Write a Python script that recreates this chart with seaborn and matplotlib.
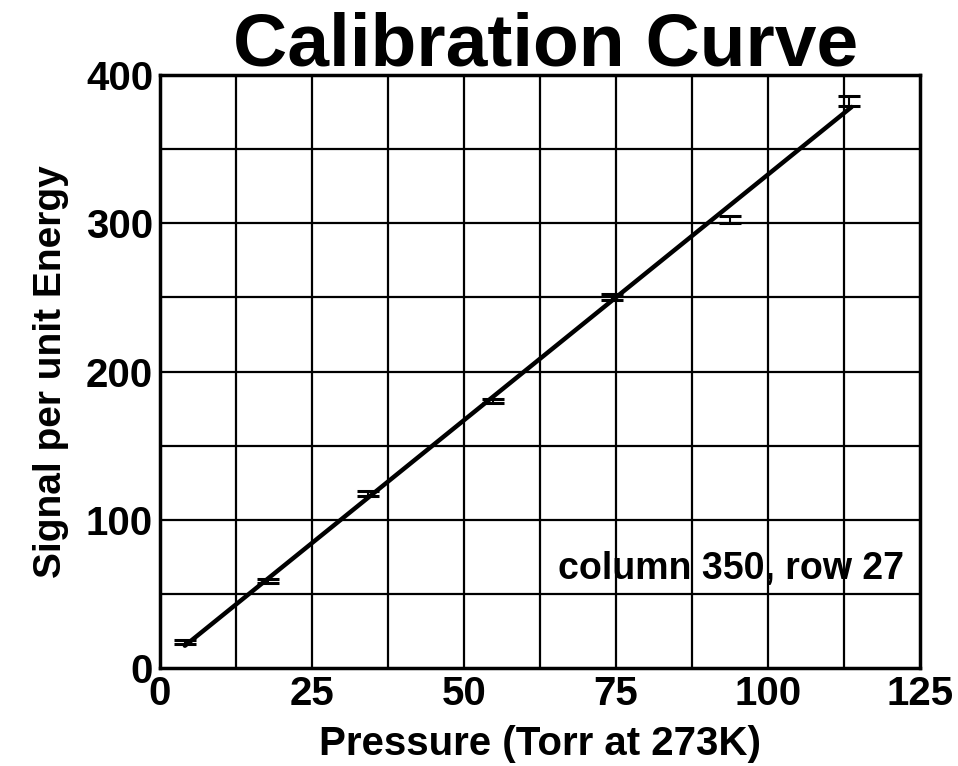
import matplotlib
matplotlib.use("Agg")
import matplotlib.pyplot as plt
import seaborn as sns
import pandas as pd

# Measured points with their uncertainties
pressure = [4.1, 17.8, 34.2, 54.8, 74.4, 93.8, 113.3]
signal = [17.5, 58.8, 117.6, 180.2, 250.0, 302.5, 382.5]
signal_err = [1.5, 1.5, 1.5, 1.5, 2.0, 2.5, 3.5]

# Straight-line calibration fit
fit_pressure = [4.1, 113.8]
fit_signal = [15.0, 378.5]

x_ticks = [0, 25, 50, 75, 100, 125]
y_ticks = [0, 100, 200, 300, 400]

sns.set_style("white")
plt.rcParams["font.family"] = ["Liberation Sans", "DejaVu Sans"]
plt.rcParams["text.color"] = "black"
plt.rcParams["axes.labelcolor"] = "black"
plt.rcParams["xtick.color"] = "black"
plt.rcParams["ytick.color"] = "black"

fig = plt.figure(figsize=(9.58, 7.66), dpi=100)
ax = fig.add_axes([0.167, 0.128, 0.793, 0.774])

# Grid: lines every 12.5 Torr and every 50 signal units
for gx in [12.5 * i for i in range(1, 10)]:
    ax.axvline(gx, color="black", lw=1.6, zorder=1)
for gy in [50 * i for i in range(1, 8)]:
    ax.axhline(gy, color="black", lw=1.6, zorder=1)

fit_df = pd.DataFrame({"p": fit_pressure, "s": fit_signal})
sns.lineplot(data=fit_df, x="p", y="s", color="black", lw=3.2, ax=ax, zorder=3)

ax.errorbar(pressure, signal, yerr=signal_err, fmt="none", ecolor="black",
            elinewidth=1.5, capsize=8, capthick=2.2, zorder=4)

ax.set_xlim(0, 125)
ax.set_ylim(0, 400)
ax.set_xticks(x_ticks)
ax.set_yticks(y_ticks)
ax.tick_params(axis="both", length=0, labelsize=29, pad=5)
for lab in ax.get_xticklabels() + ax.get_yticklabels():
    lab.set_fontweight("bold")

for side in ["left", "bottom", "top", "right"]:
    ax.spines[side].set_color("black")
    ax.spines[side].set_linewidth(2.5)

ax.set_xlabel("Pressure (Torr at 273K)", fontsize=29, fontweight="bold", labelpad=9)
ax.set_ylabel("Signal per unit Energy", fontsize=28, fontweight="bold", labelpad=12)

ax.text(122.5, 67, "column 350, row 27", fontsize=27, fontweight="bold",
        ha="right", va="center", zorder=5)

fig.text(0.57, 0.915, "Calibration Curve", fontsize=54, fontweight="bold",
         ha="center", va="baseline")

fig.savefig("out.png", dpi=100, facecolor="white")
